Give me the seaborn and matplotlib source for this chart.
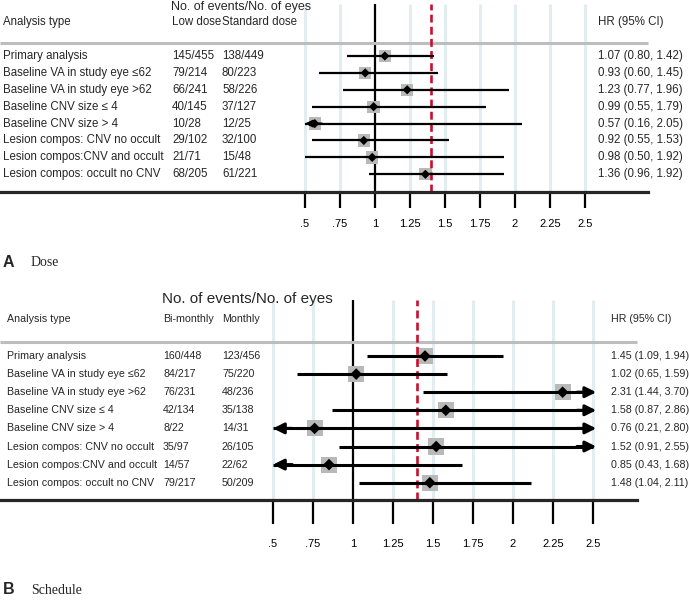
import numpy as np
import pandas as pd
import matplotlib
matplotlib.use("Agg")
import matplotlib.pyplot as plt
import seaborn as sns
from matplotlib.transforms import blended_transform_factory

# ---------------- data ----------------
analysis_types = [
    "Primary analysis",
    "Baseline VA in study eye \u226462",
    "Baseline VA in study eye >62",
    "Baseline CNV size \u2264 4",
    "Baseline CNV size > 4",
    "Lesion compos: CNV no occult",
    "Lesion compos:CNV and occult",
    "Lesion compos: occult no CNV",
]

dose_low = ["145/455", "79/214", "66/241", "40/145", "10/28", "29/102", "21/71", "68/205"]
dose_std = ["138/449", "80/223", "58/226", "37/127", "12/25", "32/100", "15/48", "61/221"]
dose_hr = [1.07, 0.93, 1.23, 0.99, 0.57, 0.92, 0.98, 1.36]
dose_lo = [0.80, 0.60, 0.77, 0.55, 0.16, 0.55, 0.50, 0.96]
dose_hi = [1.42, 1.45, 1.96, 1.79, 2.05, 1.53, 1.92, 1.92]

sched_bi = ["160/448", "84/217", "76/231", "42/134", "8/22", "35/97", "14/57", "79/217"]
sched_mo = ["123/456", "75/220", "48/236", "35/138", "14/31", "26/105", "22/62", "50/209"]
sched_hr = [1.45, 1.02, 2.31, 1.58, 0.76, 1.52, 0.85, 1.48]
sched_lo = [1.09, 0.65, 1.44, 0.87, 0.21, 0.91, 0.43, 1.04]
sched_hi = [1.94, 1.59, 3.70, 2.86, 2.80, 2.55, 1.68, 2.11]

tick_values = [0.5, 0.75, 1.0, 1.25, 1.5, 1.75, 2.0, 2.25, 2.5]
tick_labels = [".5", ".75", "1", "1.25", "1.5", "1.75", "2", "2.25", "2.5"]
null_value = 1.0
ref_value = 1.4
x_min_shown, x_max_shown = 0.5, 2.5

# ---------------- style ----------------
sns.set_style("white")
plt.rcParams["font.family"] = ["Liberation Sans", "DejaVu Sans"]

W, H = 689, 607
fig = plt.figure(figsize=(W / 100, H / 100), dpi=100)

LIGHT = "#e2edf1"
GRAY_SQ = "#b9b9b9"
RED = "#c8102e"


def panel(top_px, bottom_px, row0_px, row_dy, one_px, unit_px, rule_end_px,
          groups, col_labels, col_x, lab_x, hr_x, title, title_x, title_y,
          title_fs, hdr_y, gray_y, row_fs, hr, lo, hi, sq_s, dm_s, ci_lw,
          head, tick_len, tick_pad, letter, word, letter_y):
    ax = fig.add_axes([0, 1 - bottom_px / H, 1, (bottom_px - top_px) / H])
    y_top = (top_px - row0_px) / row_dy
    y_bot = (bottom_px - row0_px) / row_dy
    ax.set_ylim(y_bot, y_top)
    ax.set_xlim(1 - one_px / unit_px, 1 + (W - one_px) / unit_px)

    def ypx(p):
        return (p - row0_px) / row_dy

    tr = blended_transform_factory(fig.transFigure, ax.transData)

    rows = np.arange(len(analysis_types))
    df = pd.DataFrame({"row": rows, "hr": hr, "lo": lo, "hi": hi})
    df["lo_c"] = df["lo"].clip(lower=x_min_shown)
    df["hi_c"] = df["hi"].clip(upper=x_max_shown)

    # grid lines
    grid = [t for t in tick_values if t != null_value]
    ax.vlines(grid, y_bot, y_top, color=LIGHT, lw=2.2, zorder=0)
    ax.axvline(null_value, color="black", lw=1.6, zorder=1)

    # squares
    sns.scatterplot(data=df, x="hr", y="row", marker="s", s=sq_s, color=GRAY_SQ,
                    edgecolor="none", linewidth=0, ax=ax, zorder=2, legend=False)
    ax.axvline(ref_value, color=RED, lw=1.9, dashes=(3.0, 1.6), zorder=2.5)
    # CI lines
    ax.hlines(df["row"], df["lo_c"], df["hi_c"], color="black", lw=ci_lw, zorder=3)
    for _, r in df.iterrows():
        if r["lo"] < x_min_shown:
            ax.annotate("", xy=(x_min_shown, r["row"]), xytext=(x_min_shown + 0.12, r["row"]),
                        arrowprops=dict(arrowstyle="-|>", color="black", lw=ci_lw,
                                        mutation_scale=head, shrinkA=0, shrinkB=0),
                        zorder=3)
        if r["hi"] > x_max_shown:
            ax.annotate("", xy=(x_max_shown + 0.02, r["row"]), xytext=(x_max_shown - 0.1, r["row"]),
                        arrowprops=dict(arrowstyle="-|>", color="black", lw=ci_lw,
                                        mutation_scale=head, shrinkA=0, shrinkB=0),
                        zorder=3)
    sns.scatterplot(data=df, x="hr", y="row", marker="D", s=dm_s, color="black",
                    edgecolor="none", linewidth=0, ax=ax, zorder=4, legend=False)

    # axis
    for s in ["top", "left", "right"]:
        ax.spines[s].set_visible(False)
    ax.spines["bottom"].set_linewidth(2.3)
    ax.spines["bottom"].set_bounds(1 - one_px / unit_px, 1 + (rule_end_px - one_px) / unit_px)
    ax.set_xticks(tick_values)
    ax.set_xticklabels(tick_labels, fontsize=8)
    ax.set_yticks([])
    ax.tick_params(axis="x", direction="out", length=tick_len, width=1.6,
                   pad=tick_pad, colors="black", bottom=True)
    ax.set_xlabel("")
    ax.set_ylabel("")

    # header texts
    ax.text(title_x / W, ypx(title_y), title, transform=tr, fontsize=title_fs,
            va="center", ha="left", clip_on=False)
    ax.text(lab_x / W, ypx(hdr_y), "Analysis type", transform=tr, fontsize=row_fs,
            va="center", ha="left", clip_on=False)
    ax.text(col_x[0] / W, ypx(hdr_y), col_labels[0], transform=tr, fontsize=row_fs,
            va="center", ha="left", clip_on=False)
    ax.text(col_x[1] / W, ypx(hdr_y), col_labels[1], transform=tr, fontsize=row_fs,
            va="center", ha="left", clip_on=False)
    ax.text(hr_x / W, ypx(hdr_y), "HR (95% CI)", transform=tr, fontsize=row_fs,
            va="center", ha="left", clip_on=False)
    ax.plot([0, rule_end_px / W], [ypx(gray_y)] * 2, transform=tr, color="#bdbdbd",
            lw=2.2, clip_on=False, solid_capstyle="butt")

    for i, name in enumerate(analysis_types):
        ax.text(lab_x / W, i, name, transform=tr, fontsize=row_fs, va="center", ha="left")
        ax.text(col_x[0] / W, i, groups[0][i], transform=tr, fontsize=row_fs, va="center", ha="left")
        ax.text(col_x[1] / W, i, groups[1][i], transform=tr, fontsize=row_fs, va="center", ha="left")
        ax.text(hr_x / W, i, f"{hr[i]:.2f} ({lo[i]:.2f}, {hi[i]:.2f})", transform=tr,
                fontsize=row_fs, va="center", ha="left", clip_on=False)

    fig.text(3 / W, 1 - letter_y / H, letter, fontsize=11.5, fontweight="bold",
             va="center", ha="left")
    fig.text(31 / W, 1 - letter_y / H, word, fontsize=10, va="center", ha="left",
             family=["Liberation Serif", "DejaVu Serif"])
    return ax


panel(top_px=4, bottom_px=192, row0_px=56, row_dy=16.9, one_px=375, unit_px=140,
      rule_end_px=648, groups=(dose_low, dose_std), col_labels=("Low dose", "Standard dose"),
      col_x=(172, 222), lab_x=3, hr_x=598, title="No. of events/No. of eyes",
      title_x=171, title_y=7, title_fs=9, hdr_y=22, gray_y=43, row_fs=8.3,
      hr=dose_hr, lo=dose_lo, hi=dose_hi, sq_s=78, dm_s=22, ci_lw=1.6, head=10,
      tick_len=11.5, tick_pad=8, letter="A", word="Dose", letter_y=263)

panel(top_px=300, bottom_px=500, row0_px=356, row_dy=18.1, one_px=353, unit_px=160,
      rule_end_px=637, groups=(sched_bi, sched_mo), col_labels=("Bi-monthly", "Monthly"),
      col_x=(163, 222), lab_x=7, hr_x=611, title="No. of events/No. of eyes",
      title_x=162, title_y=299, title_fs=11, hdr_y=319, gray_y=342, row_fs=7.7,
      hr=sched_hr, lo=sched_lo, hi=sched_hi, sq_s=135, dm_s=35, ci_lw=2.2, head=16,
      tick_len=17, tick_pad=11, letter="B", word="Schedule", letter_y=590)

fig.savefig("out.png", dpi=100)
